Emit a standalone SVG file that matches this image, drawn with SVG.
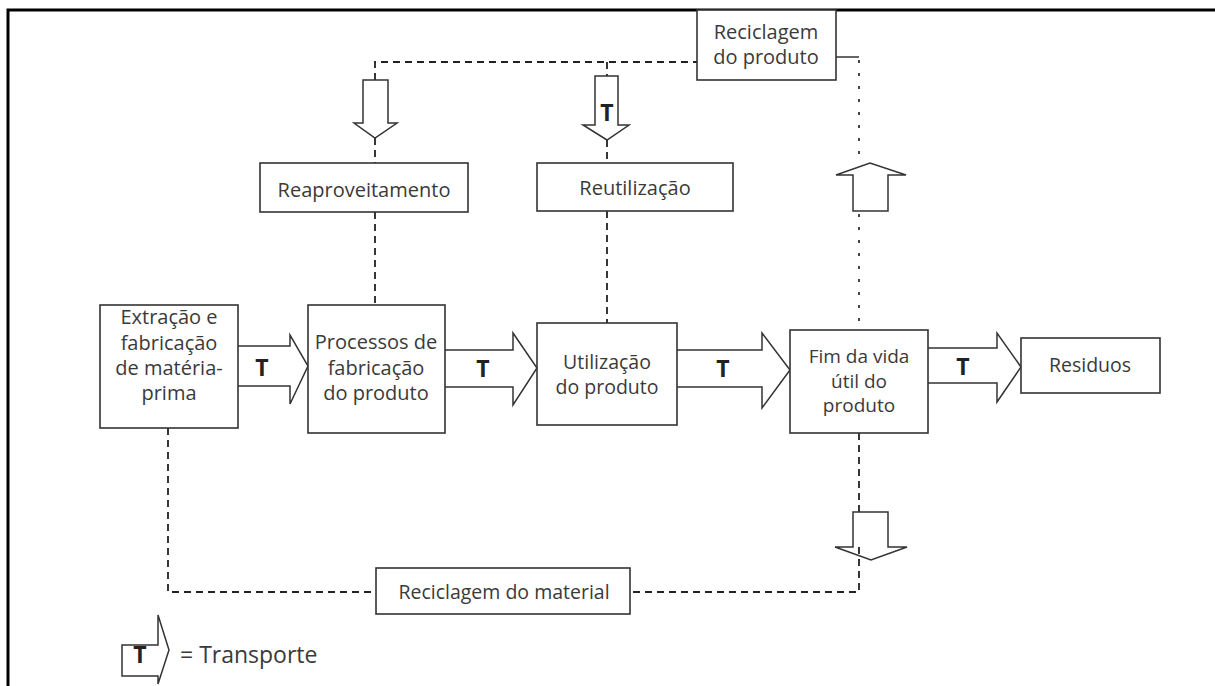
<svg xmlns="http://www.w3.org/2000/svg" width="1215" height="686" viewBox="0 0 1215 686">
<style>
.box{fill:#fff;stroke:#333;stroke-width:1.6}
.arr{fill:#fff;stroke:#333;stroke-width:1.5;stroke-linejoin:miter}
.dash{fill:none;stroke:#222;stroke-width:1.8;stroke-dasharray:7 5}
.dot{fill:none;stroke:#333;stroke-width:1.8;stroke-dasharray:3 10}
.solid{fill:none;stroke:#333;stroke-width:1.5}
.lbl{font-family:"Open Sans","Noto Sans","Liberation Sans",sans-serif;fill:#3a3a3a;text-anchor:middle}
.t{font-family:"Open Sans","Liberation Sans",sans-serif;font-weight:bold;font-size:23px;fill:#222;text-anchor:middle}
</style>
<rect width="1215" height="686" fill="#fff"/>
<path d="M8,686 V10 H1215" fill="none" stroke="#000" stroke-width="3"/>

<g id="connectors">
  <path class="dash" d="M375,80 V62 H697"/>
  <path class="dash" d="M607,62 V76"/>
  <path class="dash" d="M375,138 V163"/>
  <path class="dash" d="M375,212 V305"/>
  <path class="dash" d="M607,140 V163"/>
  <path class="dash" d="M607,211 V323"/>
  <path class="solid" d="M836,57 H859"/>
  <path class="dot" d="M859,60 V163"/>
  <path class="dot" d="M859,214 V330"/>
  <path class="dash" d="M859,433 V512"/>
  <path class="dash" d="M859,547 V592 H630"/>
  <path class="dash" d="M168,428 V592 H376"/>
  <path class="arr" d="M238,346 H290 V335 L308,366 L290,404 V386 H238"/>
  <text class="t" x="262" y="376">T</text>
  <path class="arr" d="M445,350 H513 V333 L537,368 L513,405 V387 H445"/>
  <text class="t" x="483" y="377">T</text>
  <path class="arr" d="M677,350 H762 V333 L790,370 L762,408 V387 H677"/>
  <text class="t" x="723" y="377">T</text>
  <path class="arr" d="M928,348 H997 V333 L1021,367 L997,402 V383 H928"/>
  <text class="t" x="963" y="375">T</text>
  <path class="arr" d="M363,80 V123 H354 L375,138 L397,123 H388 V80 Z"/>
  <path class="arr" d="M595,76 V125 H583 L607,140 L629,125 H618 V76 Z"/>
  <text class="t" x="607" y="121">T</text>
  <path class="arr" d="M853,211 V175 H836 L870,163 L906,175 H888 V211 Z"/>
  <path class="arr" d="M853,512 V547 H835 L871,560 L907,547 H888 V512 Z"/>
  <path class="dash" d="M859,547 V560"/>
</g>

<g id="extracao">
  <rect class="box" x="100" y="305" width="138" height="123"/>
  <text class="lbl" font-size="20" x="169" y="324">Extração e</text>
  <text class="lbl" font-size="20" x="169" y="350">fabricação</text>
  <text class="lbl" font-size="20" x="169" y="375">de matéria-</text>
  <text class="lbl" font-size="20" x="169" y="400">prima</text>
</g>
<g id="processos">
  <rect class="box" x="308" y="305" width="137" height="128"/>
  <text class="lbl" font-size="20" x="376" y="349">Processos de</text>
  <text class="lbl" font-size="20" x="376" y="375">fabricação</text>
  <text class="lbl" font-size="20" x="376" y="400">do produto</text>
</g>
<g id="utilizacao">
  <rect class="box" x="537" y="323" width="140" height="102"/>
  <text class="lbl" font-size="19.5" x="607" y="369">Utilização</text>
  <text class="lbl" font-size="19.5" x="607" y="394">do produto</text>
</g>
<g id="fim">
  <rect class="box" x="790" y="330" width="138" height="103"/>
  <text class="lbl" font-size="19" x="859" y="363">Fim da vida</text>
  <text class="lbl" font-size="19" x="859" y="388">útil do</text>
  <text class="lbl" font-size="19" x="859" y="412">produto</text>
</g>
<g id="residuos">
  <rect class="box" x="1021" y="338" width="139" height="55"/>
  <text class="lbl" font-size="19.5" x="1090" y="372">Residuos</text>
</g>
<g id="reaproveitamento">
  <rect class="box" x="260" y="163" width="208" height="49"/>
  <text class="lbl" font-size="20" x="364" y="197">Reaproveitamento</text>
</g>
<g id="reutilizacao">
  <rect class="box" x="537" y="163" width="196" height="48"/>
  <text class="lbl" font-size="20" x="635" y="195">Reutilização</text>
</g>
<g id="reciclagem-produto">
  <rect class="box" x="697" y="10" width="139" height="70"/>
  <text class="lbl" font-size="20" x="766" y="39">Reciclagem</text>
  <text class="lbl" font-size="20" x="766" y="64">do produto</text>
</g>
<g id="reciclagem-material">
  <rect class="box" x="376" y="568" width="254" height="46"/>
  <text class="lbl" font-size="19.5" x="504" y="599">Reciclagem do material</text>
</g>
<g id="legenda">
  <path class="arr" d="M158,645 H122 V676 H158 V684 L169,650 L158,615 Z"/>
  <text class="t" x="140" y="663">T</text>
  <text class="lbl" font-size="23" x="180" y="663" style="text-anchor:start">= Transporte</text>
</g>
</svg>
